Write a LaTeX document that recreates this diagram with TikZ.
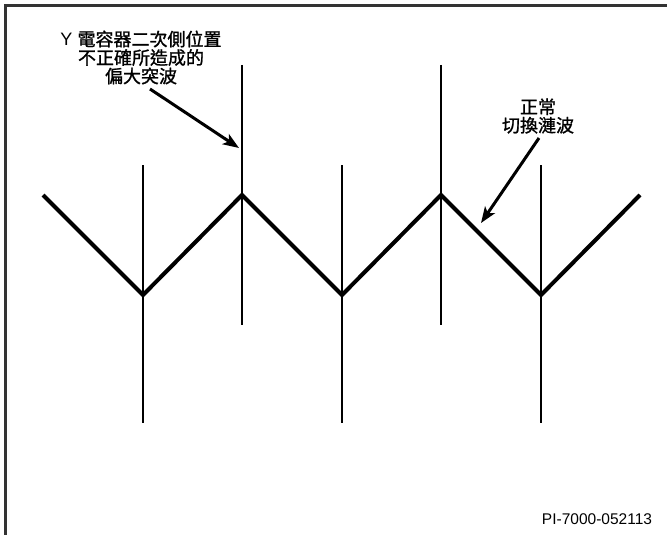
\documentclass[tikz,border=0pt]{standalone}
\usepackage{fontspec}
\setmainfont{Liberation Sans}
\newfontfamily\cjk[FakeBold=1.2]{Noto Sans CJK TC}
\usetikzlibrary{arrows.meta}

\begin{document}
\begin{tikzpicture}[x=1pt,y=-1pt]%
                    \useasboundingbox (0,0) rectangle (667,535); %%
                    \tikzstyle{spike}=[line width=1.5pt,black]; %%
                    \tikzstyle{ripple}=[line width=4pt,black,line join=miter]; %%
                    \tikzstyle{pointer}=[line width=3pt,-{Stealth[length=16pt,width=12pt,inset=4pt]}]; %%
                    \tikzstyle{note}=[align=center,inner sep=0pt,font=\cjk\fontsize{18}{18.5}\selectfont]; %%
                    \draw[line width=3pt,black!80] (5.5,535) -- (5.5,5.5) -- (667,5.5); %%
                    \begin{scope}
                        \coordinate (z0) at (43,195); %%
                        \coordinate (z1) at (143,295); %%
                        \coordinate (z2) at (242,195); %%
                        \coordinate (z3) at (342,295); %%
                        \coordinate (z4) at (441,195); %%
                        \coordinate (z5) at (541,295); %%
                        \coordinate (z6) at (640,195); %%
                    \end{scope}
                        \draw[spike] (143,165)--(143,423); %%
                        \draw[spike] (342,165)--(342,423); %%
                        \draw[spike] (541,165)--(541,423); %%
                        \draw[spike] (242,65)--(242,325); %%
                        \draw[spike] (441,65)--(441,325); %%
                        \draw[ripple] (z0)--(z1)--(z2)--(z3)--(z4)--(z5)--(z6); %%
                        \node[note] (spikenote) at (141,57.5) {{\fontspec{Liberation Sans}Y}\hspace{5pt}電容器二次側位置\\不正確所造成的\\偏大突波}; %%
                        \node[note] (ripplenote) at (538,116) {正常\\切換漣波}; %%
                        \node[inner sep=0pt,font=\fontsize{15.5}{18}\selectfont] (code) at (597,519) {PI-7000-052113}; %%
                        \coordinate (s1) at (150,89); %%
                        \coordinate (t1) at (239,148); %%
                        \coordinate (s2) at (539,138); %%
                        \coordinate (t2) at (481,223); %%
                        \draw[pointer] (s1)--(t1); %%
                        \draw[pointer] (s2)--(t2); %%
                    \end{tikzpicture}
\end{document}
